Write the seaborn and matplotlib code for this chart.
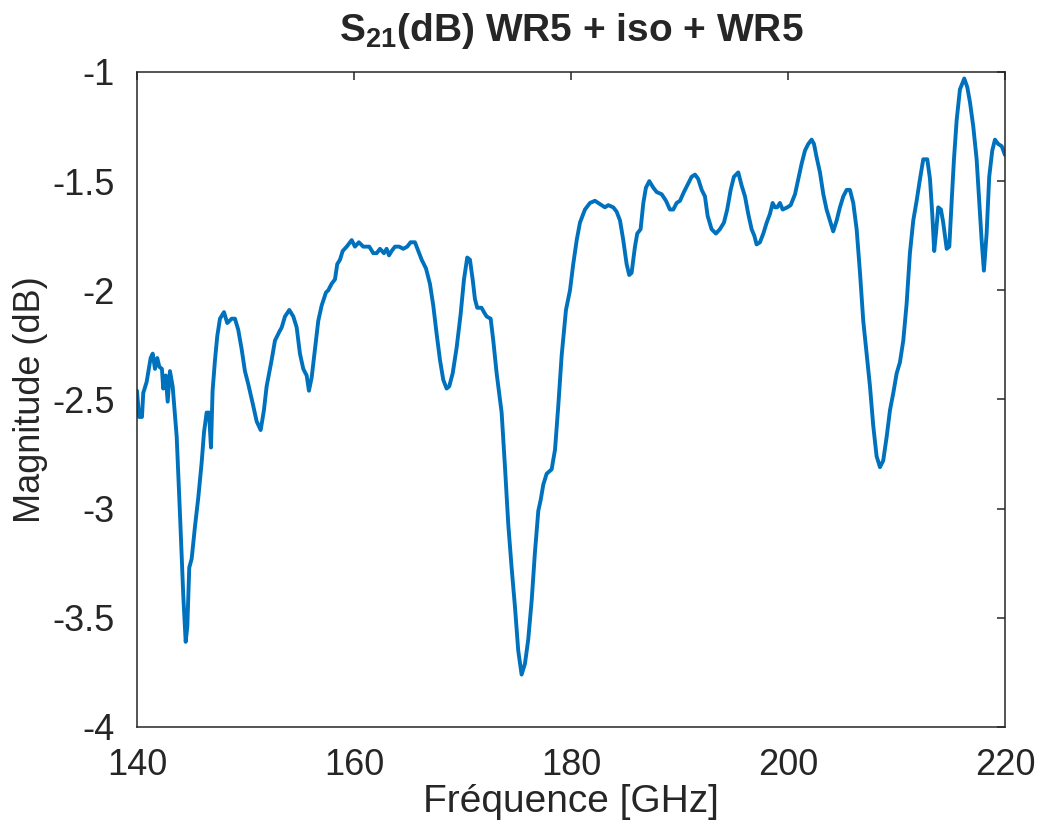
import matplotlib
matplotlib.use("Agg")
import matplotlib.pyplot as plt
import numpy as np
import pandas as pd
import seaborn as sns

# Measured transmission of the WR5 + isolator + WR5 chain
freq_ghz = [
    140.00, 140.20, 140.46, 140.58, 140.89, 141.26, 141.45, 141.66, 141.87, 142.06,
    142.30, 142.42, 142.65, 142.83, 143.04, 143.29, 143.66, 143.96, 144.27, 144.49,
    144.64, 144.82, 145.04, 145.35, 145.65, 145.96, 146.18, 146.42, 146.64, 146.82,
    146.97, 147.19, 147.40, 147.65, 148.02, 148.32, 148.73, 149.03, 149.33, 149.65,
    149.95, 150.26, 150.72, 151.03, 151.40, 151.70, 151.95, 152.41, 152.72, 153.12,
    153.34, 153.64, 154.04, 154.41, 154.72, 155.02, 155.33, 155.64, 155.85, 156.10,
    156.41, 156.71, 157.02, 157.42, 157.63, 157.94, 158.25, 158.46, 158.71, 158.96,
    159.33, 159.79, 160.09, 160.45, 160.86, 161.41, 161.78, 162.09, 162.40, 162.76,
    163.01, 163.23, 163.47, 163.78, 164.17, 164.54, 164.91, 165.22, 165.62, 165.93,
    166.24, 166.64, 167.00, 167.31, 167.62, 167.93, 168.23, 168.54, 168.78, 169.10,
    169.47, 169.83, 170.14, 170.44, 170.69, 170.94, 171.15, 171.36, 171.76, 171.98,
    172.23, 172.60, 172.84, 173.15, 173.61, 173.92, 174.22, 174.53, 174.84, 175.14,
    175.45, 175.76, 176.06, 176.38, 176.68, 176.99, 177.21, 177.45, 177.76, 178.22,
    178.53, 178.83, 179.14, 179.54, 179.91, 180.21, 180.53, 180.83, 181.29, 181.75,
    182.21, 182.52, 182.83, 183.13, 183.44, 183.90, 184.21, 184.52, 184.82, 185.13,
    185.37, 185.59, 185.90, 186.11, 186.42, 186.67, 186.91, 187.22, 187.59, 187.90,
    188.36, 188.76, 189.12, 189.43, 189.74, 190.05, 190.41, 190.81, 191.12, 191.43,
    191.73, 192.05, 192.35, 192.60, 192.96, 193.36, 193.73, 194.10, 194.40, 194.72,
    195.02, 195.42, 195.73, 196.04, 196.34, 196.65, 196.90, 197.11, 197.42, 197.73,
    198.04, 198.34, 198.59, 198.80, 199.01, 199.26, 199.51, 199.94, 200.25, 200.65,
    200.95, 201.26, 201.57, 201.87, 202.18, 202.40, 202.64, 202.95, 203.26, 203.56,
    203.87, 204.17, 204.49, 204.79, 205.10, 205.41, 205.71, 206.02, 206.33, 206.64,
    206.94, 207.25, 207.56, 207.86, 208.17, 208.48, 208.78, 209.10, 209.40, 209.71,
    210.02, 210.32, 210.63, 210.94, 211.24, 211.55, 211.86, 212.17, 212.47, 212.84,
    213.09, 213.30, 213.48, 213.64, 213.85, 214.10, 214.31, 214.63, 214.87, 215.09,
    215.30, 215.55, 215.85, 216.25, 216.53, 216.78, 217.08, 217.39, 217.63, 217.85,
    218.06, 218.31, 218.55, 218.83, 219.08, 219.38, 219.70, 220.00,
]

s21_db = [
    -2.46, -2.58, -2.58, -2.47, -2.42, -2.31, -2.29, -2.36, -2.31, -2.35,
    -2.36, -2.45, -2.39, -2.51, -2.37, -2.44, -2.67, -3.02, -3.40, -3.61,
    -3.54, -3.27, -3.23, -3.08, -2.95, -2.79, -2.65, -2.56, -2.56, -2.72,
    -2.46, -2.32, -2.21, -2.13, -2.10, -2.15, -2.13, -2.13, -2.18, -2.27,
    -2.37, -2.43, -2.53, -2.60, -2.64, -2.55, -2.44, -2.32, -2.23, -2.19,
    -2.17, -2.12, -2.09, -2.12, -2.17, -2.29, -2.36, -2.39, -2.46, -2.40,
    -2.27, -2.14, -2.07, -2.01, -2.00, -1.97, -1.95, -1.88, -1.86, -1.82,
    -1.80, -1.77, -1.80, -1.78, -1.80, -1.80, -1.83, -1.83, -1.81, -1.83,
    -1.81, -1.84, -1.82, -1.80, -1.80, -1.81, -1.80, -1.78, -1.78, -1.82,
    -1.86, -1.90, -1.97, -2.07, -2.20, -2.32, -2.41, -2.45, -2.44, -2.38,
    -2.26, -2.11, -1.95, -1.85, -1.86, -1.95, -2.04, -2.08, -2.08, -2.10,
    -2.12, -2.13, -2.23, -2.38, -2.56, -2.81, -3.07, -3.27, -3.45, -3.65,
    -3.76, -3.71, -3.60, -3.42, -3.20, -3.01, -2.96, -2.89, -2.84, -2.82,
    -2.73, -2.53, -2.30, -2.09, -2.00, -1.88, -1.77, -1.69, -1.63, -1.60,
    -1.59, -1.60, -1.61, -1.62, -1.61, -1.62, -1.64, -1.68, -1.77, -1.88,
    -1.93, -1.92, -1.80, -1.74, -1.72, -1.60, -1.53, -1.50, -1.53, -1.55,
    -1.56, -1.59, -1.63, -1.63, -1.60, -1.59, -1.55, -1.51, -1.48, -1.47,
    -1.49, -1.54, -1.57, -1.66, -1.72, -1.74, -1.72, -1.69, -1.63, -1.54,
    -1.48, -1.46, -1.52, -1.57, -1.65, -1.72, -1.75, -1.79, -1.78, -1.74,
    -1.69, -1.65, -1.60, -1.62, -1.62, -1.60, -1.63, -1.62, -1.61, -1.56,
    -1.49, -1.42, -1.36, -1.33, -1.31, -1.33, -1.39, -1.46, -1.56, -1.63,
    -1.68, -1.73, -1.68, -1.62, -1.57, -1.54, -1.54, -1.60, -1.72, -1.92,
    -2.14, -2.29, -2.44, -2.62, -2.76, -2.81, -2.78, -2.67, -2.55, -2.47,
    -2.38, -2.33, -2.23, -2.06, -1.83, -1.68, -1.59, -1.49, -1.40, -1.40,
    -1.49, -1.65, -1.82, -1.74, -1.62, -1.63, -1.69, -1.81, -1.80, -1.59,
    -1.40, -1.22, -1.08, -1.03, -1.07, -1.14, -1.25, -1.40, -1.59, -1.77,
    -1.91, -1.74, -1.48, -1.36, -1.31, -1.33, -1.34, -1.38,
]

x_ticks = [140, 160, 180, 200, 220]
y_ticks = [-4, -3.5, -3, -2.5, -2, -1.5, -1]
y_tick_labels = ["-4", "-3.5", "-3", "-2.5", "-2", "-1.5", "-1"]

sns.set_theme(style="white")
ink = "#262626"
plt.rcParams.update({
    "font.family": ["Liberation Sans", "DejaVu Sans"],
    "mathtext.fontset": "custom",
    "mathtext.rm": "Liberation Sans",
    "mathtext.bf": "Liberation Sans:bold",
    "mathtext.default": "bf",
    "axes.unicode_minus": False,
    "axes.edgecolor": ink,
    "axes.linewidth": 1.1,
    "xtick.color": ink,
    "ytick.color": ink,
    "text.color": ink,
    "axes.labelcolor": ink,
})

df = pd.DataFrame({"Fréquence [GHz]": freq_ghz, "Magnitude (dB)": s21_db})

fig = plt.figure(figsize=(10.4, 8.3), dpi=100)
ax = fig.add_axes([0.1317, 0.1241, 0.8346, 0.7892])

sns.lineplot(data=df, x="Fréquence [GHz]", y="Magnitude (dB)", ax=ax,
             color="#0072BD", linewidth=2.8, estimator=None, sort=False)

ax.set_xlim(140, 220)
ax.set_ylim(-4, -1)
ax.set_xticks(x_ticks)
ax.set_xticklabels([str(t) for t in x_ticks])
ax.set_yticks(y_ticks)
ax.set_yticklabels(y_tick_labels)

for side in ["top", "right", "bottom", "left"]:
    ax.spines[side].set_visible(True)
    ax.spines[side].set_color(ink)

ax.tick_params(axis="both", which="major", direction="in", length=6, width=1.1,
               top=True, right=True, labelsize=26)
ax.tick_params(axis="x", pad=15)
ax.tick_params(axis="y", pad=16)

ax.set_xlabel("Fréquence [GHz]", fontsize=28, labelpad=1)
ax.set_ylabel("Magnitude (dB)", fontsize=26, labelpad=3)
ax.set_title(r"$S_{21}$(dB) WR5 + iso + WR5", fontsize=28, fontweight="bold",
             pad=22)

fig.savefig("out.png", dpi=100, facecolor="white")
